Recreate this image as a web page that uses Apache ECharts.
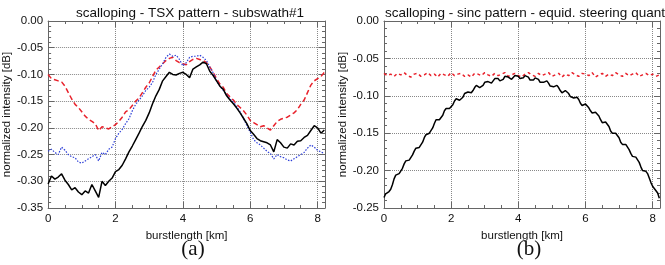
<!DOCTYPE html>
<html>
<head>
<meta charset="utf-8">
<title>scalloping</title>
<script src="https://cdn.jsdelivr.net/npm/echarts@6/dist/echarts.min.js"></script>
<style>
  html, body { margin: 0; padding: 0; background: #fff; }
</style>
</head>
<body>
<div id="main" style="width: 665px; height: 265px;"></div>
<script type="text/javascript">
  // sampling step along the burst [km]
  var STEP_A = 0.1;
  var STEP_B_BLACK = 0.05;
  var STEP_B_RED = 0.1;
  var X_MAX = 8.22;

  var xTicks = [0, 2, 4, 6, 8];
  var yTicksA = [0, -0.05, -0.10, -0.15, -0.20, -0.25, -0.30, -0.35];
  var yTicksB = [0, -0.05, -0.10, -0.15, -0.20, -0.25];

  // (a) TSX pattern, subswath #1
  var aBlack = [
    -0.305, -0.290, -0.296, -0.292, -0.286, -0.298, -0.306, -0.316, -0.312, -0.320,
    -0.325, -0.318, -0.322, -0.306, -0.318, -0.330, -0.300, -0.308, -0.300, -0.294,
    -0.282, -0.278, -0.270, -0.258, -0.245, -0.234, -0.222, -0.210, -0.197, -0.186,
    -0.172, -0.155, -0.140, -0.128, -0.112, -0.104, -0.096, -0.100, -0.101, -0.098,
    -0.096, -0.100, -0.106, -0.090, -0.086, -0.082, -0.077, -0.080, -0.094, -0.102,
    -0.112, -0.122, -0.128, -0.140, -0.148, -0.155, -0.163, -0.172, -0.182, -0.192,
    -0.205, -0.212, -0.220, -0.224, -0.226, -0.228, -0.232, -0.245, -0.222, -0.228,
    -0.236, -0.238, -0.230, -0.232, -0.225, -0.224, -0.218, -0.214, -0.205, -0.196,
    -0.200, -0.210, -0.204
  ];
  var aBlue = [
    -0.244, -0.240, -0.246, -0.250, -0.236, -0.242, -0.250, -0.254, -0.256, -0.264,
    -0.266, -0.262, -0.258, -0.254, -0.250, -0.262, -0.246, -0.250, -0.240, -0.236,
    -0.220, -0.210, -0.203, -0.192, -0.183, -0.168, -0.156, -0.148, -0.140, -0.130,
    -0.124, -0.115, -0.100, -0.090, -0.080, -0.068, -0.062, -0.066, -0.064, -0.072,
    -0.084, -0.078, -0.068, -0.066, -0.066, -0.064, -0.068, -0.074, -0.086, -0.097,
    -0.112, -0.122, -0.130, -0.138, -0.146, -0.152, -0.160, -0.170, -0.182, -0.196,
    -0.208, -0.222, -0.228, -0.232, -0.238, -0.244, -0.248, -0.258, -0.250, -0.254,
    -0.256, -0.260, -0.262, -0.258, -0.254, -0.250, -0.246, -0.238, -0.232, -0.236,
    -0.242, -0.245, -0.248
  ];
  var aRed = [
    -0.100, -0.108, -0.110, -0.112, -0.114, -0.122, -0.134, -0.146, -0.156, -0.162,
    -0.170, -0.178, -0.184, -0.188, -0.192, -0.205, -0.198, -0.200, -0.202, -0.198,
    -0.194, -0.188, -0.180, -0.170, -0.166, -0.158, -0.150, -0.144, -0.134, -0.124,
    -0.116, -0.104, -0.092, -0.086, -0.080, -0.074, -0.070, -0.068, -0.074, -0.078,
    -0.080, -0.082, -0.076, -0.072, -0.070, -0.072, -0.074, -0.078, -0.086, -0.096,
    -0.108, -0.118, -0.124, -0.136, -0.142, -0.148, -0.156, -0.162, -0.168, -0.176,
    -0.186, -0.190, -0.194, -0.198, -0.196, -0.200, -0.204, -0.196, -0.188, -0.184,
    -0.182, -0.180, -0.176, -0.172, -0.166, -0.156, -0.148, -0.134, -0.120, -0.112,
    -0.108, -0.104, -0.096
  ];

  // (b) sinc pattern, equidistant steering quantisation
  var bBlack = [
    -0.236, -0.231, -0.229, -0.228, -0.225, -0.219, -0.211, -0.206, -0.204, -0.204,
    -0.202, -0.197, -0.191, -0.187, -0.186, -0.186, -0.184, -0.179, -0.174, -0.170,
    -0.169, -0.169, -0.167, -0.162, -0.156, -0.152, -0.151, -0.150, -0.148, -0.143,
    -0.137, -0.132, -0.131, -0.132, -0.130, -0.126, -0.120, -0.117, -0.117, -0.117,
    -0.116, -0.112, -0.107, -0.104, -0.104, -0.106, -0.105, -0.102, -0.097, -0.095,
    -0.095, -0.097, -0.096, -0.093, -0.089, -0.086, -0.087, -0.089, -0.089, -0.086,
    -0.082, -0.080, -0.081, -0.083, -0.083, -0.081, -0.077, -0.076, -0.077, -0.080,
    -0.080, -0.078, -0.074, -0.073, -0.075, -0.077, -0.078, -0.076, -0.073, -0.072,
    -0.074, -0.077, -0.078, -0.076, -0.073, -0.073, -0.075, -0.079, -0.080, -0.079,
    -0.076, -0.076, -0.078, -0.082, -0.084, -0.082, -0.080, -0.080, -0.083, -0.087,
    -0.089, -0.088, -0.086, -0.086, -0.089, -0.093, -0.096, -0.095, -0.093, -0.093,
    -0.097, -0.101, -0.103, -0.103, -0.101, -0.102, -0.105, -0.110, -0.113, -0.112,
    -0.111, -0.112, -0.116, -0.120, -0.123, -0.123, -0.122, -0.123, -0.127, -0.132,
    -0.136, -0.136, -0.135, -0.137, -0.141, -0.147, -0.150, -0.151, -0.150, -0.152,
    -0.156, -0.162, -0.165, -0.166, -0.165, -0.167, -0.172, -0.177, -0.181, -0.182,
    -0.182, -0.184, -0.189, -0.195, -0.200, -0.201, -0.201, -0.204, -0.210, -0.216,
    -0.221, -0.224, -0.226, -0.230, -0.237
  ];
  var bRed = [
    -0.070, -0.073, -0.071, -0.074, -0.070, -0.072, -0.069, -0.073, -0.075, -0.071,
    -0.070, -0.074, -0.072, -0.069, -0.073, -0.071, -0.075, -0.070, -0.072, -0.074,
    -0.069, -0.073, -0.071, -0.070, -0.074, -0.072, -0.075, -0.070, -0.071, -0.073,
    -0.069, -0.072, -0.074, -0.070, -0.073, -0.071, -0.069, -0.074, -0.072, -0.070,
    -0.073, -0.075, -0.071, -0.069, -0.072, -0.074, -0.070, -0.073, -0.071, -0.069,
    -0.074, -0.072, -0.070, -0.075, -0.071, -0.073, -0.069, -0.072, -0.074, -0.070,
    -0.071, -0.073, -0.069, -0.075, -0.072, -0.070, -0.074, -0.071, -0.073, -0.069,
    -0.072, -0.074, -0.070, -0.073, -0.071, -0.069, -0.074, -0.072, -0.070, -0.073,
    -0.071, -0.074, -0.072
  ];

  function pairs(vals, step) {
    return vals.map(function (v, i) { return [+(i * step).toFixed(3), v]; });
  }

  var FONT = 'Liberation Sans';
  var TXT = '#111';
  var frameColor = '#666';
  var gridLine = { show: true, lineStyle: { color: '#888', type: [1, 1], width: 1 } };

  function xAxes(gridIndex) {
    var base = {
      type: 'value', gridIndex: gridIndex, min: 0, max: X_MAX, interval: 2,
      axisLine: { show: true, onZero: false, lineStyle: { color: frameColor } },
      axisTick: { show: true, inside: true, length: 6, lineStyle: { color: frameColor } },
      minorTick: { show: true, splitNumber: 4, length: 3, lineStyle: { color: frameColor } }
    };
    return [
      Object.assign({}, base, {
        position: 'bottom',
        name: 'burstlength [km]', nameLocation: 'middle', nameGap: 19,
        nameTextStyle: { fontFamily: FONT, fontSize: 11.5, color: TXT },
        axisLabel: {
          fontFamily: FONT, fontSize: 11.5, color: TXT, margin: 5,
          showMaxLabel: false,
          formatter: function (v) { return xTicks.indexOf(v) >= 0 ? String(v) : ''; }
        },
        splitLine: gridLine
      }),
      Object.assign({}, base, {
        position: 'top', axisLabel: { show: false }, splitLine: { show: false }
      })
    ];
  }

  function yAxes(gridIndex, min) {
    var base = {
      type: 'value', gridIndex: gridIndex, min: min, max: 0, interval: 0.05,
      axisLine: { show: true, onZero: false, lineStyle: { color: frameColor } },
      axisTick: { show: true, inside: true, length: 6, lineStyle: { color: frameColor } },
      minorTick: { show: true, splitNumber: 5, length: 3, lineStyle: { color: frameColor } }
    };
    return [
      Object.assign({}, base, {
        position: 'left',
        name: 'normalized intensity [dB]', nameLocation: 'middle', nameGap: 34,
        nameRotate: 90,
        nameTextStyle: { fontFamily: FONT, fontSize: 11.5, color: TXT },
        axisLabel: {
          fontFamily: FONT, fontSize: 11.5, color: TXT, margin: 5,
          formatter: function (v) { return v.toFixed(2); }
        },
        splitLine: gridLine
      }),
      Object.assign({}, base, {
        position: 'right', axisLabel: { show: false }, splitLine: { show: false }
      })
    ];
  }

  var myChart = echarts.init(document.getElementById('main'), null, { renderer: 'canvas' });

  var xs = xAxes(0).concat(xAxes(1));
  var ys = yAxes(0, yTicksA[yTicksA.length - 1]).concat(yAxes(1, yTicksB[yTicksB.length - 1]));

  function line(data, xi, yi, color, width, type) {
    return {
      type: 'line', xAxisIndex: xi, yAxisIndex: yi, data: data,
      showSymbol: false, symbol: 'none', animation: false, silent: true,
      lineStyle: { color: color, width: width, type: type },
      clip: true
    };
  }

  myChart.setOption({
    animation: false,
    title: [
      { text: 'scalloping - TSX pattern - subswath#1', left: 71, top: 1,
        textStyle: { fontFamily: FONT, fontSize: 13.5, fontWeight: 'normal', color: TXT } },
      { text: 'scalloping - sinc pattern - equid. steering quant.', left: 380, top: 1,
        textStyle: { fontFamily: FONT, fontSize: 13.5, fontWeight: 'normal', color: TXT } },
      { text: '(a)', left: 188, top: 234, textAlign: 'center',
        textStyle: { fontFamily: 'Liberation Serif', fontSize: 21, fontWeight: 'normal', color: TXT } },
      { text: '(b)', left: 524, top: 234, textAlign: 'center',
        textStyle: { fontFamily: 'Liberation Serif', fontSize: 21, fontWeight: 'normal', color: TXT } }
    ],
    grid: [
      { left: 48, right: 340, top: 21, bottom: 57 },
      { left: 384, right: 5, top: 21, bottom: 57 }
    ],
    xAxis: xs,
    yAxis: ys,
    series: [
      line(pairs(aRed, STEP_A), 0, 0, '#e8212b', 1.5, [5, 3]),
      line(pairs(aBlue, STEP_A), 0, 0, '#2d3fd8', 1.2, [1.5, 1.5]),
      line(pairs(aBlack, STEP_A), 0, 0, '#000', 1.5, 'solid'),
      line(pairs(bRed, STEP_B_RED), 2, 2, '#e8212b', 1.5, [3, 3]),
      line(pairs(bBlack, STEP_B_BLACK), 2, 2, '#000', 1.5, 'solid')
    ]
  });
</script>
</body>
</html>
